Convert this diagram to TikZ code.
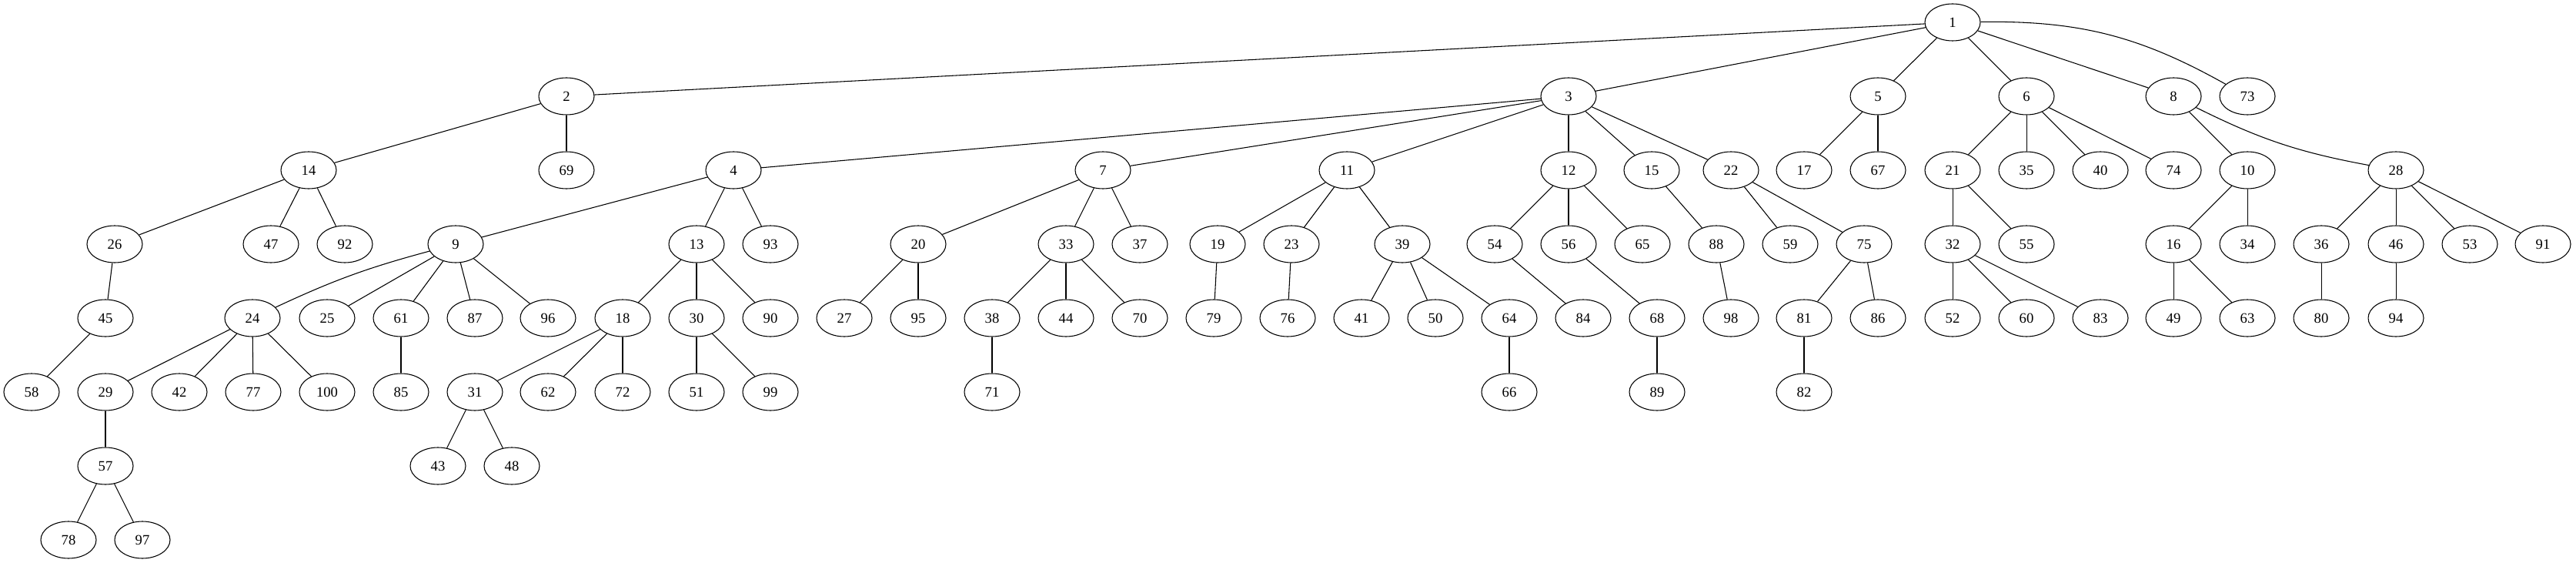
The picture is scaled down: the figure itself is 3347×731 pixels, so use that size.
\documentclass[tikz,border=0pt]{standalone}
\usepackage{fontspec}
\setmainfont{Liberation Serif}
\usetikzlibrary{shapes.geometric}
\begin{document}
\begin{tikzpicture}[x=0.75pt,y=-0.75pt,
  nd/.style={draw,ellipse,minimum width=54pt,minimum height=36pt,inner sep=0pt,line width=0.8pt,font=\fontsize{14}{16}\selectfont},
  ed/.style={line width=0.8pt}]
\useasboundingbox (0,0) rectangle (3347,731);
\foreach \n/\x/\y in {
1/2537/29,
2/736/125, 3/2038/125, 5/2440/125, 6/2633/125, 8/2824/125, 73/2920/125,
14/401/221, 69/736/221, 4/953/221, 7/1433/221, 11/1750/221, 12/2038/221, 15/2146/221, 22/2249/221, 17/2344/221, 67/2440/221, 21/2537/221, 35/2633/221, 40/2729/221, 74/2824/221, 10/2920/221, 28/3113/221,
26/149/317, 47/352/317, 92/448/317, 9/592/317, 13/905/317, 93/1001/317, 20/1193/317, 33/1385/317, 37/1481/317, 19/1582/317, 23/1678/317, 39/1822/317, 54/1942/317, 56/2038/317, 65/2134/317, 88/2230/317, 59/2326/317, 75/2422/317, 32/2537/317, 55/2633/317, 16/2824/317, 34/2920/317, 36/3016/317, 46/3113/317, 53/3209/317, 91/3304/317,
45/137/413, 24/328/413, 25/425/413, 61/521/413, 87/617/413, 96/712/413, 18/809/413, 30/905/413, 90/1001/413, 27/1097/413, 95/1193/413, 38/1289/413, 44/1385/413, 70/1481/413, 79/1577/413, 76/1673/413, 41/1769/413, 50/1865/413, 64/1961/413, 84/2057/413, 68/2153/413, 98/2249/413, 81/2344/413, 86/2440/413, 52/2537/413, 60/2633/413, 83/2729/413, 49/2824/413, 63/2920/413, 80/3016/413, 94/3113/413,
58/41/509, 29/137/509, 42/233/509, 77/329/509, 100/425/509, 85/521/509, 31/617/509, 62/712/509, 72/809/509, 51/905/509, 99/1001/509, 71/1289/509, 66/1961/509, 89/2153/509, 82/2344/509,
57/137/605, 43/569/605, 48/665/605,
78/89/701, 97/185/701}
  \node[nd] (n\n) at (\x,\y) {\n};
\foreach \a/\b in {
1/2, 1/3, 1/5, 1/6, 1/8,
2/14, 2/69,
3/4, 3/7, 3/11, 3/12, 3/15, 3/22,
5/17, 5/67,
6/21, 6/35, 6/40, 6/74,
8/10,
14/26, 14/47, 14/92,
4/9, 4/13, 4/93,
7/20, 7/33, 7/37,
11/19, 11/23, 11/39,
12/54, 12/56, 12/65,
15/88,
22/59, 22/75,
21/32, 21/55,
10/16, 10/34,
28/36, 28/46, 28/53, 28/91,
26/45,
9/25, 9/61, 9/87, 9/96,
13/18, 13/30, 13/90,
20/27, 20/95,
33/38, 33/44, 33/70,
19/79, 23/76,
39/41, 39/50, 39/64,
54/84, 56/68, 88/98,
75/81, 75/86,
32/52, 32/60, 32/83,
16/49, 16/63,
36/80, 46/94, 45/58,
24/29, 24/42, 24/77, 24/100,
61/85,
18/31, 18/62, 18/72,
30/51, 30/99,
38/71, 64/66, 68/89, 81/82, 29/57,
31/43, 31/48,
57/78, 57/97}
  \draw[ed] (n\a) -- (n\b);
\draw[ed] (n1) to[bend left=15] (n73);
\draw[ed] (n8) to[bend right=8] (n28);
\draw[ed] (n9) to[bend right=5] (n24);
\end{tikzpicture}
\end{document}
